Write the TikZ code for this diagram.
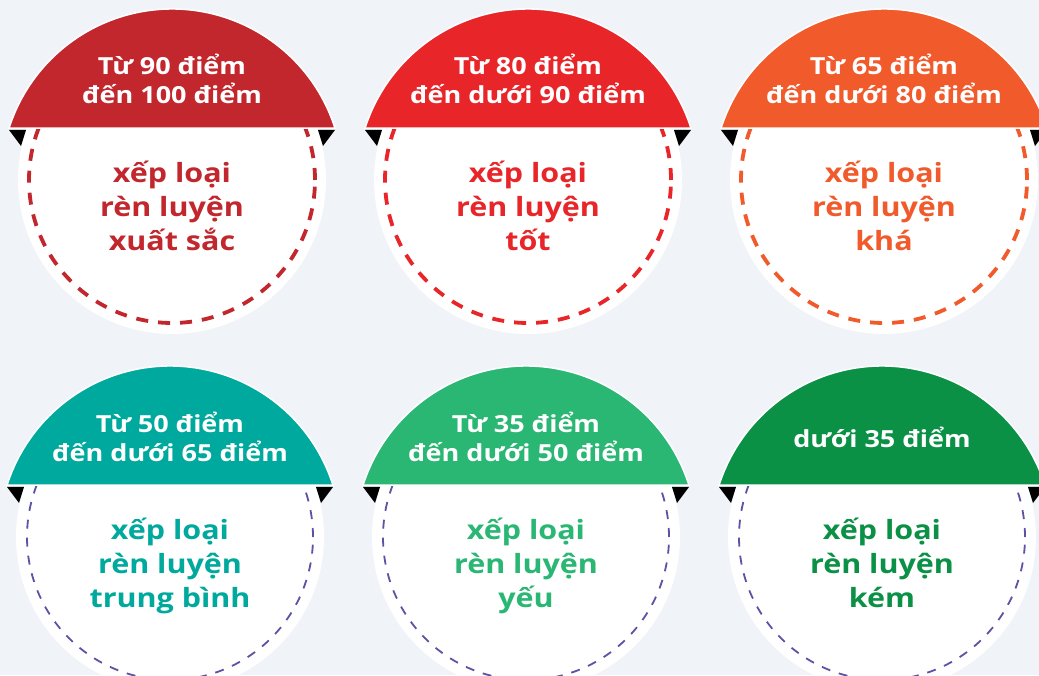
\documentclass[tikz,border=0pt]{standalone}
\usepackage{fontspec}
\setmainfont{Open Sans}
\newfontfamily\badgefont{Open Sans}[FakeStretch=1.15]
\usetikzlibrary{positioning}

\definecolor{bgpale}{HTML}{F0F3F7}
\definecolor{gradeA}{HTML}{C1272D}
\definecolor{gradeB}{HTML}{E8262A}
\definecolor{gradeC}{HTML}{F15A2B}
\definecolor{gradeD}{HTML}{00A99D}
\definecolor{gradeE}{HTML}{2AB673}
\definecolor{gradeF}{HTML}{0B9146}
\definecolor{ringblue}{HTML}{5E52A4}

\begin{document}
\begin{tikzpicture}[
    x=1pt, y=1pt,
    disc/.style={fill=white},
    capfill/.style={draw=white, line width=1.5pt},
    fold/.style={fill=black},
    rangetext/.style={text=white, align=center, font=\badgefont\fontsize{23.5}{28}\selectfont\bfseries},
    gradetext/.style={align=center, font=\badgefont\fontsize{26.5}{34}\selectfont\bfseries},
    boldring/.style={line width=3.8pt, dash pattern=on 12pt off 10pt},
    thinring/.style={draw=ringblue, line width=1.8pt, dash pattern=on 9pt off 9pt}
  ]
    % page
    \clip (0,0) rectangle (1039,675);
    \fill[bgpale] (0,0) rectangle (1039,675);

    % upper row
    \foreach \cx/\col/\n/\range/\grade in {
        172/gradeA/A/{Từ 90 điểm\\đến 100 điểm}/{xếp loại\\rèn luyện\\xuất sắc},
        528/gradeB/B/{Từ 80 điểm\\đến dưới 90 điểm}/{xếp loại\\rèn luyện\\tốt},
        884/gradeC/C/{Từ 65 điểm\\đến dưới 80 điểm}/{xếp loại\\rèn luyện\\khá}} {
      \fill[disc] (\cx,495) circle[radius=154];
      \draw[boldring, draw=\col] (\cx,495) circle[radius=143];
      \fill[\col, capfill] (\cx,495) ++(17.7:171)
        arc[start angle=17.7, end angle=162.3, radius=171] -- cycle;
      \fill[fold] (\cx-163,545) -- (\cx-146,545) -- (\cx-151,529) -- cycle;
      \fill[fold] (\cx+163,545) -- (\cx+146,545) -- (\cx+151,529) -- cycle;
      \node[rangetext] (range\n) at (\cx,592) {\strut\range\strut};
      \node[gradetext, text=\col] (grade\n) at (\cx,465.5) {\strut\grade\strut};
    }

    % lower row
    \foreach \cx/\col/\n/\range/\grade in {
        170/gradeD/D/{Từ 50 điểm\\đến dưới 65 điểm}/{xếp loại\\rèn luyện\\trung bình},
        526/gradeE/E/{Từ 35 điểm\\đến dưới 50 điểm}/{xếp loại\\rèn luyện\\yếu},
        882/gradeF/F/{dưới 35 điểm}/{xếp loại\\rèn luyện\\kém}} {
      \fill[disc] (\cx,138) circle[radius=154];
      \draw[thinring] (\cx,138) circle[radius=143];
      \fill[\col, capfill] (\cx,138) ++(17.7:171)
        arc[start angle=17.7, end angle=162.3, radius=171] -- cycle;
      \fill[fold] (\cx-163,188) -- (\cx-146,188) -- (\cx-151,172) -- cycle;
      \fill[fold] (\cx+163,188) -- (\cx+146,188) -- (\cx+151,172) -- cycle;
      \node[rangetext] (range\n) at (\cx,234) {\strut\range\strut};
      \node[gradetext, text=\col] (grade\n) at (\cx,108) {\strut\grade\strut};
    }
\end{tikzpicture}
\end{document}
